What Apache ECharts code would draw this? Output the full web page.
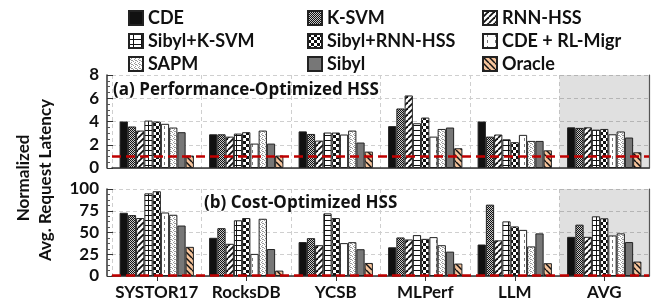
<!DOCTYPE html>
<html><head><meta charset="utf-8">
<script src="https://cdn.jsdelivr.net/npm/echarts@6/dist/echarts.min.js"></script>
<style>html,body{margin:0;padding:0;background:#fff}#c{width:658px;height:307px}</style>
</head><body><div id="c"></div>
<script>
const categories = ['SYSTOR17','RocksDB','YCSB','MLPerf','LLM','AVG'];
const seriesNames = ['CDE','K-SVM','RNN-HSS','Sibyl+K-SVM','Sibyl+RNN-HSS','CDE + RL-Migr','SAPM','Sibyl','Oracle'];
// (a) Performance-Optimized HSS
const perfCDE        = [4.0, 2.9, 3.15, 3.6, 4.0, 3.5];
const perfKSVM       = [3.57, 2.9, 2.93, 5.12, 2.7, 3.45];
const perfRNN        = [3.22, 2.7, 2.36, 6.24, 2.88, 3.5];
const perfSibylKSVM  = [4.08, 2.96, 3.05, 3.85, 2.47, 3.3];
const perfSibylRNN   = [4.0, 3.08, 3.05, 4.34, 2.22, 3.36];
const perfCDERL      = [3.8, 2.1, 2.88, 2.7, 2.85, 2.9];
const perfSAPM       = [3.48, 3.22, 3.22, 3.36, 2.33, 3.14];
const perfSibyl      = [3.08, 2.1, 2.19, 3.48, 2.33, 2.62];
const perfOracle     = [1.07, 1.07, 1.41, 1.7, 1.52, 1.35];
// (b) Cost-Optimized HSS
const costCDE        = [72.7, 43.9, 39, 33, 36.2, 45];
const costKSVM       = [70, 55, 43.5, 44.3, 82, 59];
const costRNN        = [66.6, 37, 35.4, 42, 41, 45];
const costSibylKSVM  = [95, 64, 72, 47, 62.8, 68.6];
const costSibylRNN   = [97.4, 66.6, 66.6, 42.7, 57, 66.3];
const costCDERL      = [73, 25.4, 37.8, 44.7, 53, 46.6];
const costSAPM       = [70.4, 65.8, 38.9, 35.4, 34, 49];
const costSibyl      = [58, 31, 30.8, 28, 49, 39];
const costOracle     = [33.5, 6.2, 15, 14.3, 14.7, 16.6];
const perfTicks = [0, 2, 4, 6, 8];
const costTicks = [0, 25, 50, 75, 100];
const baseline = 1;
const shadedCategory = 'AVG';

const perfData = [perfCDE, perfKSVM, perfRNN, perfSibylKSVM, perfSibylRNN, perfCDERL, perfSAPM, perfSibyl, perfOracle];
const costData = [costCDE, costKSVM, costRNN, costSibylKSVM, costSibylRNN, costCDERL, costSAPM, costSibyl, costOracle];

function mk(w, h, draw) {
  const c = document.createElement('canvas'); c.width = w; c.height = h;
  const g = c.getContext('2d'); draw(g, w, h);
  return {image: c, repeat: 'repeat'};
}
const fills = [
  '#111111',
  mk(4, 4, (g) => { g.fillStyle = '#c8c8c8'; g.fillRect(0,0,4,4); g.fillStyle = '#111';
    for (let y=0;y<4;y++) for (let x=0;x<4;x++) if ((x+y)%2===0) g.fillRect(x,y,1,1); }),
  mk(6, 6, (g) => { g.fillStyle = '#fff'; g.fillRect(0,0,6,6); g.strokeStyle = '#111'; g.lineWidth = 1.8;
    for (const o of [-6,0,6]) { g.beginPath(); g.moveTo(o, 6); g.lineTo(o+6, 0); g.stroke(); } }),
  mk(8, 5, (g) => { g.fillStyle = '#fff'; g.fillRect(0,0,8,5); g.fillStyle = '#111';
    g.fillRect(0,0,8,1); g.fillRect(4,0,1,5); }),
  mk(6, 6, (g) => { g.fillStyle = '#fff'; g.fillRect(0,0,6,6); g.fillStyle = '#111';
    g.fillRect(0,0,3,3); g.fillRect(3,3,3,3); }),
  mk(8, 6, (g) => { g.fillStyle = '#fff'; g.fillRect(0,0,8,6); g.fillStyle = '#777';
    g.fillRect(4,0,1,3); }),
  mk(4, 4, (g) => { g.fillStyle = '#fff'; g.fillRect(0,0,4,4); g.fillStyle = '#9a9a9a';
    g.fillRect(0,0,1,1); g.fillRect(2,1,1,1); g.fillRect(1,2,1,1); g.fillRect(3,3,1,1); g.fillRect(2,3,1,1); }),
  '#777777',
  mk(6, 6, (g) => { g.fillStyle = '#f6c49c'; g.fillRect(0,0,6,6); g.strokeStyle = '#111'; g.lineWidth = 1.5;
    for (const o of [-6,0,6]) { g.beginPath(); g.moveTo(o, 0); g.lineTo(o+6, 6); g.stroke(); } })
];

const FONT = 'Lato';
const txt = {fontFamily: FONT, fontWeight: 'bold', color: '#111'};
const titleTxt = {fontFamily: 'Open Sans', fontWeight: 'bold', color: '#111', fontSize: 17};

function panelSeries(data, axisIdx, ticks) {
  const out = seriesNames.map((name, i) => {
    const s = {
      name, type: 'bar', xAxisIndex: axisIdx, yAxisIndex: axisIdx, data: data[i],
      barGap: '0%', barCategoryGap: '17%', z: 3,
      itemStyle: {color: fills[i], borderColor: '#222', borderWidth: 1},
      silent: true, animation: false
    };
    if (i === 0) {
      s.markLine = {silent: true, symbol: 'none', label: {show: false}, z: 5,
        lineStyle: {color: '#c00000', type: [9, 5], width: 2.5},
        data: [{yAxis: baseline}]};
    }
    return s;
  });
  // shaded background band for the AVG group, on a hidden twin category axis
  out.unshift({
    name: 'shade', type: 'bar', xAxisIndex: axisIdx + 4, yAxisIndex: axisIdx, z: 1, silent: true,
    barWidth: '100%',
    data: categories.map(c => c === shadedCategory ? ticks[ticks.length - 1] : '-'),
    itemStyle: {color: 'rgba(0,0,0,0.12)'}
  });
  return out;
}

function yAx(gridIndex, ticks) {
  return {type: 'value', gridIndex, min: ticks[0], max: ticks[ticks.length-1],
    interval: ticks[1] - ticks[0], offset: 5,
    axisLine: {show: true, lineStyle: {color: '#333', width: 1.5}},
    axisTick: {show: true, inside: true, length: 6, lineStyle: {color: '#333'}},
    minorTick: {show: true, splitNumber: 4, length: 3, lineStyle: {color: '#555'}},
    axisLabel: Object.assign({fontSize: 17, margin: 8}, txt),
    splitLine: {show: true, lineStyle: {color: '#cfcfcf', type: [4, 3]}}};
}
function yFrame(gridIndex) {
  return {type: 'value', gridIndex, position: 'right', axisLine: {show: true, lineStyle: {color: '#555', width: 1.2}},
    axisTick: {show: false}, axisLabel: {show: false}, splitLine: {show: false}};
}
function xAx(gridIndex, labels) {
  return {type: 'category', gridIndex, data: categories,
    axisLine: {show: true, lineStyle: {color: '#333', width: 1.5}},
    axisTick: {show: labels, alignWithLabel: true, length: 5, lineStyle: {color: '#333'}},
    axisLabel: Object.assign({show: labels, interval: 0, fontSize: 17, margin: 8}, txt),
    splitLine: {show: true, interval: 0, lineStyle: {color: '#cfcfcf', type: [4, 3]}}};
}
function xFrame(gridIndex) {
  return {type: 'category', gridIndex, data: categories, position: 'top',
    axisLine: {show: true, lineStyle: {color: '#555', width: 1.2}},
    axisTick: {show: false}, axisLabel: {show: false}, splitLine: {show: false}};
}
function xHidden(gridIndex) {
  return {type: 'category', gridIndex, data: categories, show: false};
}

const legendBase = {orient: 'vertical', top: 9, padding: 0, itemWidth: 14, itemHeight: 14, itemGap: 5,
  icon: 'rect', textStyle: Object.assign({fontSize: 18, lineHeight: 15}, txt), selectedMode: false};

const chart = echarts.init(document.getElementById('c'), null, {renderer: 'canvas'});
chart.setOption({
  animation: false,
  backgroundColor: '#fff',
  title: [
    {text: '(a) Performance-Optimized HSS', left: 113, top: 82, padding: 0, textStyle: titleTxt},
    {text: '(b) Cost-Optimized HSS', left: 204, top: 195, padding: 0, textStyle: titleTxt}
  ],
  legend: [
    Object.assign({left: 128, data: [seriesNames[0], seriesNames[3], seriesNames[6]]}, legendBase),
    Object.assign({left: 307, data: [seriesNames[1], seriesNames[4], seriesNames[7]]}, legendBase),
    Object.assign({left: 482, data: [seriesNames[2], seriesNames[5], seriesNames[8]]}, legendBase)
  ],
  grid: [
    {left: 112, right: 9, top: 75, bottom: 139},
    {left: 112, right: 9, top: 189, bottom: 31}
  ],
  xAxis: [xAx(0, false), xAx(1, true), xFrame(0), xFrame(1), xHidden(0), xHidden(1)],
  yAxis: [yAx(0, perfTicks), yAx(1, costTicks), yFrame(0), yFrame(1)],
  graphic: [
    {type: 'text', x: 24, y: 178, rotation: Math.PI / 2,
      style: {text: 'Normalized', font: 'bold 17px Lato', fill: '#111', align: 'center', verticalAlign: 'middle'}},
    {type: 'text', x: 46, y: 180, rotation: Math.PI / 2,
      style: {text: 'Avg. Request Latency', font: 'bold 17px Lato', fill: '#111', align: 'center', verticalAlign: 'middle'}}
  ],
  series: panelSeries(perfData, 0, perfTicks).concat(panelSeries(costData, 1, costTicks))
});
</script></body></html>
